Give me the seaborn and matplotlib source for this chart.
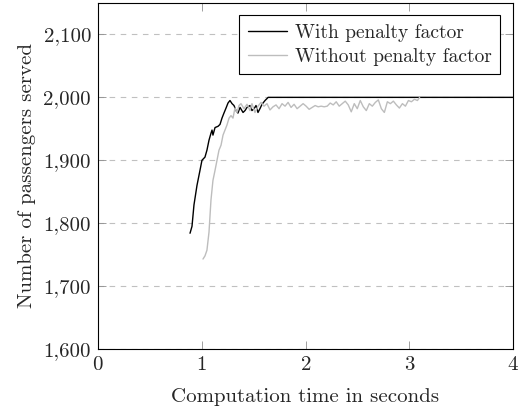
import numpy as np
import pandas as pd
import matplotlib
matplotlib.use("Agg")
import matplotlib.pyplot as plt
import matplotlib.ticker as mticker
import seaborn as sns

# With penalty factor
t_with = [0.887, 0.906, 0.925, 0.954, 0.983, 1.002, 1.031, 1.050, 1.070, 1.089, 1.099,
          1.108, 1.128, 1.157, 1.176, 1.195, 1.214, 1.234, 1.253, 1.272, 1.292, 1.311,
          1.330, 1.349, 1.369, 1.398, 1.417, 1.436, 1.465, 1.484, 1.504, 1.523, 1.542,
          1.561, 1.581, 1.610, 1.640, 2.0, 2.5, 3.0, 3.5, 4.0]
v_with = [1784, 1795, 1829, 1860, 1884, 1900, 1905, 1916, 1932, 1943, 1948,
          1940, 1952, 1954, 1957, 1967, 1975, 1983, 1991, 1995, 1990, 1987,
          1979, 1975, 1984, 1976, 1979, 1984, 1987, 1979, 1982, 1987, 1976,
          1982, 1989, 1995, 2000, 2000, 2000, 2000, 2000, 2000]

# Without penalty factor
t_without = [1.012, 1.031, 1.050, 1.070, 1.089, 1.108, 1.128, 1.147, 1.166, 1.186,
             1.205, 1.224, 1.243, 1.263, 1.282, 1.301, 1.320, 1.340, 1.359, 1.378,
             1.407, 1.436, 1.465, 1.484, 1.513, 1.542, 1.571, 1.600, 1.629, 1.658,
             1.687, 1.716, 1.745, 1.774, 1.803, 1.832, 1.861, 1.890, 1.919, 1.948,
             1.977, 2.006, 2.035, 2.064, 2.093, 2.122, 2.151, 2.180, 2.209, 2.238,
             2.267, 2.296, 2.325, 2.354, 2.383, 2.412, 2.441, 2.470, 2.499, 2.528,
             2.557, 2.586, 2.615, 2.644, 2.673, 2.702, 2.731, 2.760, 2.789, 2.818,
             2.847, 2.876, 2.905, 2.934, 2.963, 2.992, 3.021, 3.050, 3.079, 3.100]
v_without = [1743, 1748, 1757, 1786, 1837, 1868, 1884, 1900, 1916, 1924,
             1940, 1948, 1956, 1967, 1971, 1967, 1983, 1976, 1987, 1990,
             1982, 1989, 1979, 1990, 1976, 1986, 1992, 1986, 1990, 1980,
             1985, 1988, 1982, 1990, 1986, 1992, 1984, 1989, 1982, 1986,
             1990, 1986, 1981, 1984, 1987, 1985, 1986, 1985, 1986, 1991,
             1988, 1993, 1986, 1990, 1994, 1988, 1977, 1990, 1982, 1995,
             1985, 1979, 1990, 1986, 1992, 1996, 1982, 1976, 1993, 1990,
             1994, 1988, 1983, 1990, 1986, 1995, 1993, 1997, 1995, 2000]

series_names = ["With penalty factor", "Without penalty factor"]
x_ticks = [0, 1, 2, 3, 4]
y_ticks = [1600, 1700, 1800, 1900, 2000, 2100]

df = pd.concat([
    pd.DataFrame({"t": t_with, "v": v_with, "s": series_names[0]}),
    pd.DataFrame({"t": t_without, "v": v_without, "s": series_names[1]}),
], ignore_index=True)

sns.set_style("white")
plt.rcParams["font.family"] = ["cmr10", "DejaVu Serif"]
plt.rcParams["axes.formatter.use_mathtext"] = True

fig = plt.figure(figsize=(5.22, 4.11), dpi=100)
ax = fig.add_axes([98 / 522, 1 - 349 / 411, (513 - 98) / 522, (349 - 3) / 411])

sns.lineplot(data=df, x="t", y="v", hue="s", hue_order=series_names,
             palette={series_names[0]: "black", series_names[1]: "#bdbdbd"},
             linewidth=1.0, ax=ax, estimator=None, sort=False)

ax.set_xlim(0, 4)
ax.set_ylim(1600, 2150)
ax.set_xticks(x_ticks)
ax.set_yticks(y_ticks)
ax.yaxis.set_major_formatter(mticker.FuncFormatter(lambda v, p: f"{int(v):,}"))
ax.grid(axis="y", color="#c0c0c0", linestyle=(0, (5, 5)), linewidth=0.8)
ax.grid(axis="x", visible=False)
ax.tick_params(direction="in", length=6, width=0.6, color="#909090",
               top=True, right=True, bottom=True, left=True, labelsize=15, pad=5)
for sp in ax.spines.values():
    sp.set_color("black")
    sp.set_linewidth(0.8)

ax.set_xlabel("Computation time in seconds", fontsize=15, labelpad=10)
ax.set_ylabel("Number of passengers served", fontsize=15, labelpad=5)

leg = ax.legend(loc="upper right", bbox_to_anchor=(0.969, 0.965), fontsize=14,
                frameon=True, fancybox=False, handlelength=2.0, handletextpad=0.4,
                borderpad=0.45, labelspacing=0.3, borderaxespad=0)
leg.get_frame().set_edgecolor("black")
leg.get_frame().set_linewidth(0.8)
leg.get_frame().set_alpha(1)
for line in leg.get_lines():
    line.set_linewidth(1.0)

fig.savefig("out.png", dpi=100)
